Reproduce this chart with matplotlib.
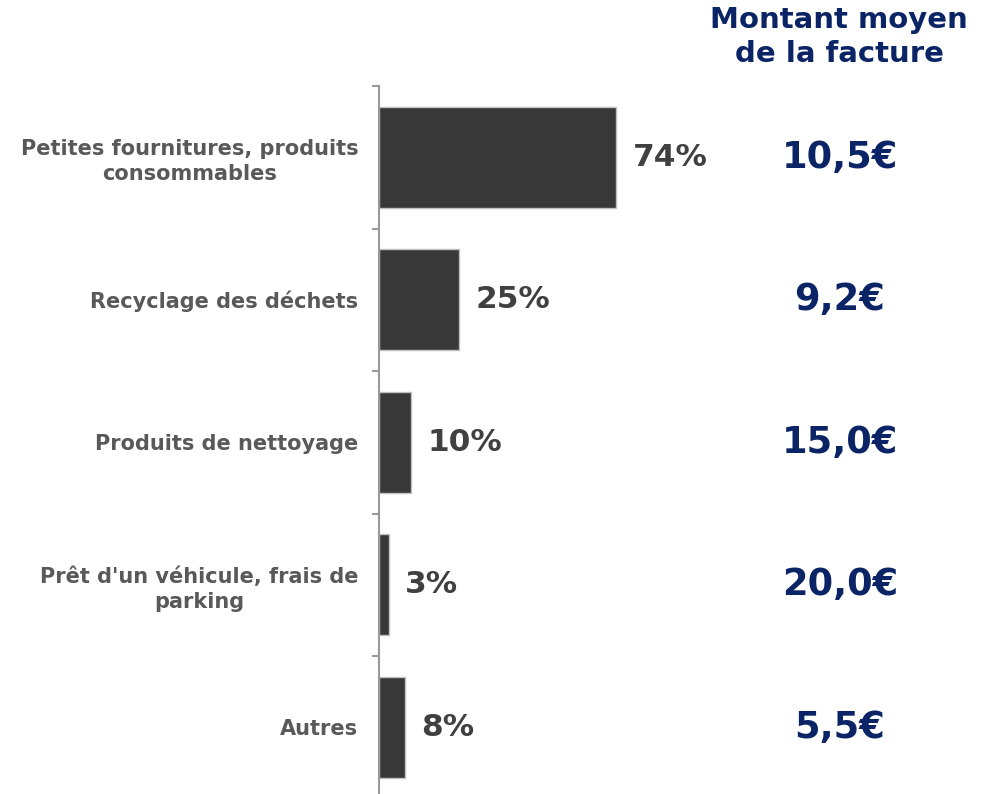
import matplotlib.pyplot as plt
import matplotlib.transforms as mtransforms

# data
categories = [
    "Petites fournitures, produits\nconsommables",
    "Recyclage des déchets",
    "Produits de nettoyage",
    "Prêt d'un véhicule, frais de\nparking",
    "Autres",
]
shares = [74, 25, 10, 3, 8]
amounts = ["10,5€", "9,2€", "15,0€", "20,0€", "5,5€"]
amount_title = "Montant moyen\nde la facture"

W, H = 986, 794
fig = plt.figure(figsize=(W / 100, H / 100), dpi=100)
plt.rcParams['font.family'] = ['DejaVu Sans']

# axes placed in pixel terms
left, top = 379, 86
slot = 142.5
ax = fig.add_axes([left / W, 1 - (top + 5 * slot) / H, 320 / W, 5 * slot / H])

y = list(range(len(categories)))
ax.barh(y, shares, height=0.71, color='#383838', edgecolor='#c0c0c0', linewidth=1.0)
ax.set_xlim(0, 100)
ax.set_ylim(len(categories) - 0.5, -0.5)

# category labels as major ticks, boundary marks as minor ticks
ax.set_yticks(y)
ax.set_yticklabels(categories, fontsize=15, fontweight='bold', color='#595959')
for lbl in ax.get_yticklabels():
    lbl.set_multialignment('center')
    lbl.set_linespacing(1.3)
ax.tick_params(axis='y', which='major', length=0, pad=15)
ax.set_yticks([i - 0.5 for i in range(len(categories) + 1)], minor=True)
ax.tick_params(axis='y', which='minor', length=5, width=1.5, color='#999999')
ax.set_xticks([])

for s in ['top', 'right', 'bottom']:
    ax.spines[s].set_visible(False)
ax.spines['left'].set_color('#999999')
ax.spines['left'].set_linewidth(1.5)

# percentage labels
for yi, v in zip(y, shares):
    ax.annotate(f"{v}%", xy=(v, yi), xytext=(12, 0), textcoords='offset points',
                ha='left', va='center', fontsize=22.5, fontweight='bold', color='#404040')

# average amount column
trans = mtransforms.blended_transform_factory(fig.transFigure, ax.transData)
for yi, a in zip(y, amounts):
    ax.text(840 / W, yi, a, transform=trans, ha='center', va='center',
            fontsize=26.5, fontweight='bold', color='#0b2466', clip_on=False)

fig.text(839 / W, 1 - 37 / H, amount_title, ha='center', va='center',
         fontsize=21, fontweight='bold', color='#0b2466', linespacing=1.25)

fig.savefig('out.png', dpi=100)
